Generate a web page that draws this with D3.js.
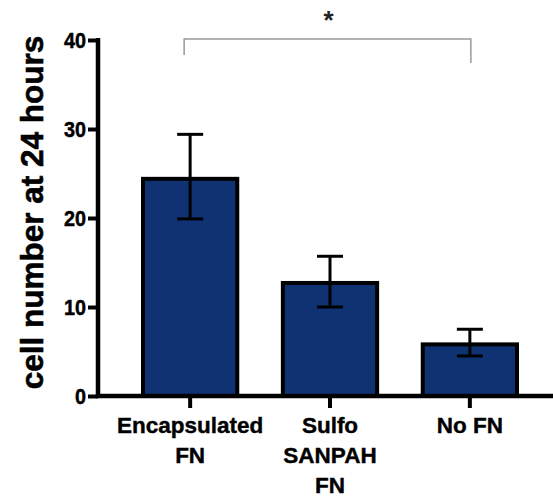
<!DOCTYPE html>
<html><head><meta charset="utf-8">
<script src="https://cdn.jsdelivr.net/npm/d3@7"></script>
<style>
html,body{margin:0;padding:0;background:#fff;}
svg{display:block;}
text{font-family:"Liberation Sans",Arial,sans-serif;font-weight:bold;}
</style></head>
<body>
<svg id="c" width="553" height="499"></svg>
<script>
const categories = [["Encapsulated","FN"],["Sulfo","SANPAH","FN"],["No FN"]];
const means = [24.4, 12.7, 5.8];
const errUpper = [29.4, 15.7, 7.5];
const errLower = [19.9, 10.0, 4.5];
const yTicks = [0, 10, 20, 30, 40];
const yLabel = "cell number at 24 hours";
const sigLabel = "*";
const sigPair = [0, 2];

const svg = d3.select("#c");
const keys = categories.map((c,i)=>i);
const x = d3.scaleBand().domain(keys).range([143, 517]).paddingInner(0.326).paddingOuter(0);
const y = d3.scaleLinear().domain([0, 40]).range([396, 40]);
const axisX = 98;
const fill = "#0f3272";

// bars
svg.selectAll("rect.bar").data(means).join("rect")
  .attr("class","bar")
  .attr("x",(d,i)=>x(i)).attr("width",x.bandwidth())
  .attr("y",d=>y(d)).attr("height",d=>y(0)-y(d))
  .attr("fill",fill).attr("stroke","#000").attr("stroke-width",4);

// error bars
const capW = 26;
const eg = svg.append("g").attr("stroke","#000").attr("stroke-width",3);
keys.forEach(i=>{
  const cx = x(i)+x.bandwidth()/2;
  eg.append("line").attr("x1",cx).attr("x2",cx).attr("y1",y(errLower[i])).attr("y2",y(errUpper[i]));
  eg.append("line").attr("x1",cx-capW/2).attr("x2",cx+capW/2).attr("y1",y(errUpper[i])).attr("y2",y(errUpper[i]));
  eg.append("line").attr("x1",cx-capW/2).attr("x2",cx+capW/2).attr("y1",y(errLower[i])).attr("y2",y(errLower[i]));
});

// y axis
const ya = svg.append("g").attr("transform",`translate(${axisX},0)`)
  .call(d3.axisLeft(y).tickValues(yTicks).tickSize(10).tickSizeOuter(0).tickPadding(2));
ya.select(".domain").attr("stroke-width",4.5).attr("d",`M0,${y(40)-2}V${y(0)}`);
ya.selectAll(".tick line").attr("stroke-width",4);
ya.selectAll(".tick text").attr("font-size",22).attr("fill","#000")
  .attr("stroke","#000").attr("stroke-width",0.5)
  .attr("font-family","'Liberation Sans',Arial,sans-serif").attr("font-weight","bold")
  .attr("transform","scale(0.9,1)").attr("x",-12/0.9);

// x axis
const xa = svg.append("g").attr("transform",`translate(0,${y(0)})`)
  .call(d3.axisBottom(x).tickSize(12).tickSizeOuter(0).tickFormat(""));
xa.select(".domain").remove();
xa.selectAll(".tick line").attr("stroke-width",4);
svg.append("line").attr("x1",axisX-2.25).attr("x2",553).attr("y1",y(0)).attr("y2",y(0))
  .attr("stroke","#000").attr("stroke-width",4.5);

// category labels
keys.forEach(i=>{
  const cx = x(i)+x.bandwidth()/2;
  const t = svg.append("text").attr("x",cx).attr("y",433).attr("text-anchor","middle")
    .attr("font-size",22.5).attr("fill","#000").attr("stroke","#000").attr("stroke-width",0.4);
  categories[i].forEach((line,j)=>{
    t.append("tspan").attr("x",cx).attr("dy",j===0?0:30).text(line);
  });
});

// y label
svg.append("text").attr("transform",`translate(43,${(32+393)/2}) rotate(-90)`)
  .attr("text-anchor","middle").attr("font-size",31.5).attr("fill","#000")
  .attr("stroke","#000").attr("stroke-width",0.6).text(yLabel);

// significance bracket
const bx1 = x(sigPair[0])+x.bandwidth()/2 - 6;
const bx2 = x(sigPair[1])+x.bandwidth()/2 + 1;
svg.append("path").attr("d",`M${bx1},55V39H${bx2}V63`).attr("fill","none")
  .attr("stroke","#999").attr("stroke-width",1.5);
svg.append("text").attr("x",(bx1+bx2)/2+1).attr("y",29).attr("text-anchor","middle")
  .attr("font-size",26).attr("font-weight","normal").attr("fill","#222").text(sigLabel);
</script>
</body></html>
